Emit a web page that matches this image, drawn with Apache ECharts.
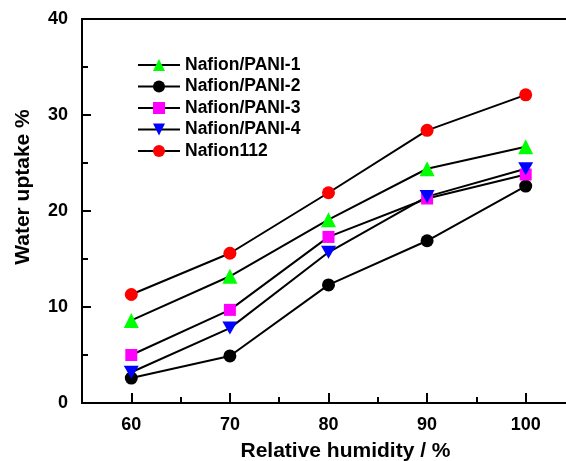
<!DOCTYPE html>
<html>
<head>
<meta charset="utf-8">
<script src="https://cdn.jsdelivr.net/npm/echarts@6/dist/echarts.min.js"></script>
<style>
  html, body { margin: 0; padding: 0; background: #fff; }
</style>
</head>
<body>
<div id="main" style="width: 566px;height:461px;"></div>
<script>
// relative humidity (%)
const humidity = [60, 70, 80, 90, 100];
// water uptake (%)
const pani1 = [8.6, 13.2, 19.1, 24.4, 26.7];
const pani2 = [2.6, 4.9, 12.3, 16.9, 22.6];
const pani3 = [5.0, 9.7, 17.3, 21.3, 23.8];
const pani4 = [3.2, 7.8, 15.7, 21.5, 24.4];
const nafion112 = [11.3, 15.6, 21.9, 28.4, 32.1];

const xMajor = [60, 70, 80, 90, 100];
const xMinor = [65, 75, 85, 95];
const yMinor = [5, 15, 25, 35];

const font = '"Liberation Sans", Arial, sans-serif';

function pairs(values) {
  const out = [];
  for (let i = 0; i < humidity.length; i++) {
    out.push([humidity[i], values[i]]);
  }
  return out;
}

function makeSeries(name, values, symbol, size, color) {
  return {
    name: name,
    type: 'line',
    xAxisIndex: 0,
    yAxisIndex: 0,
    data: pairs(values),
    symbol: symbol,
    symbolSize: size,
    showAllSymbol: true,
    lineStyle: { color: '#000', width: 2 },
    itemStyle: { color: color, borderWidth: 0 },
    emphasis: { disabled: true },
    animation: false
  };
}

const myChart = echarts.init(document.getElementById('main'));

const option = {
  animation: false,
  grid: {
    left: 82,
    right: -9,
    top: 19,
    bottom: 58,
    show: true,
    borderColor: '#000',
    borderWidth: 2,
    outerBoundsMode: 'none'
  },
  legend: {
    orient: 'vertical',
    left: 137,
    top: 56,
    padding: 0,
    itemWidth: 42,
    itemHeight: 15,
    itemGap: 3.5,
    textStyle: {
      fontFamily: font,
      fontWeight: 'bold',
      fontSize: 17.5,
      lineHeight: 17,
      color: '#000'
    },
    data: ['Nafion/PANI-1', 'Nafion/PANI-2', 'Nafion/PANI-3', 'Nafion/PANI-4', 'Nafion112']
  },
  xAxis: [
    {
      type: 'value',
      position: 'bottom',
      min: 55,
      max: 105,
      name: 'Relative humidity / %',
      nameLocation: 'middle',
      nameGap: 38,
      nameTextStyle: {
        fontFamily: font,
        fontWeight: 'bold',
        fontSize: 21,
        color: '#000',
        padding: [0, 0, 0, 34]
      },
      splitLine: { show: false },
      axisLine: { lineStyle: { color: '#000', width: 2 } },
      axisTick: {
        inside: true,
        length: 10,
        customValues: xMajor,
        lineStyle: { color: '#000', width: 2 }
      },
      axisLabel: {
        customValues: xMajor,
        margin: 13,
        fontFamily: font,
        fontWeight: 'bold',
        fontSize: 18,
        color: '#000'
      }
    },
    {
      // just the minor ticks between the labelled ones
      type: 'value',
      position: 'bottom',
      min: 55,
      max: 105,
      splitLine: { show: false },
      axisLine: { show: false },
      axisLabel: { show: false },
      axisTick: {
        inside: true,
        length: 6,
        customValues: xMinor,
        lineStyle: { color: '#000', width: 2 }
      }
    }
  ],
  yAxis: [
    {
      type: 'value',
      position: 'left',
      min: 0,
      max: 40,
      interval: 10,
      name: 'Water uptake %',
      nameLocation: 'middle',
      nameGap: 48,
      nameTextStyle: {
        fontFamily: font,
        fontWeight: 'bold',
        fontSize: 21,
        color: '#000',
        padding: [0, 0, 0, 48]
      },
      splitLine: { show: false },
      axisLine: { show: true, lineStyle: { color: '#000', width: 2 } },
      axisTick: {
        inside: true,
        length: 9,
        lineStyle: { color: '#000', width: 2 }
      },
      axisLabel: {
        margin: 14,
        fontFamily: font,
        fontWeight: 'bold',
        fontSize: 18,
        color: '#000'
      }
    },
    {
      // minor ticks on the left axis
      type: 'value',
      position: 'left',
      min: 0,
      max: 40,
      splitLine: { show: false },
      axisLine: { show: false },
      axisLabel: { show: false },
      axisTick: {
        inside: true,
        length: 6,
        customValues: yMinor,
        lineStyle: { color: '#000', width: 2 }
      }
    }
  ],
  series: [
    makeSeries('Nafion/PANI-1', pani1, 'triangle', 15, '#00ff00'),
    makeSeries('Nafion/PANI-2', pani2, 'circle', 13, '#000000'),
    makeSeries('Nafion/PANI-3', pani3, 'rect', 12, '#ff00ff'),
    makeSeries('Nafion/PANI-4', pani4, 'path://M0,0 L10,0 L5,9 Z', [15, 13], '#0000ff'),
    makeSeries('Nafion112', nafion112, 'circle', 13, '#ff0000')
  ]
};

myChart.setOption(option);
</script>
</body>
</html>
